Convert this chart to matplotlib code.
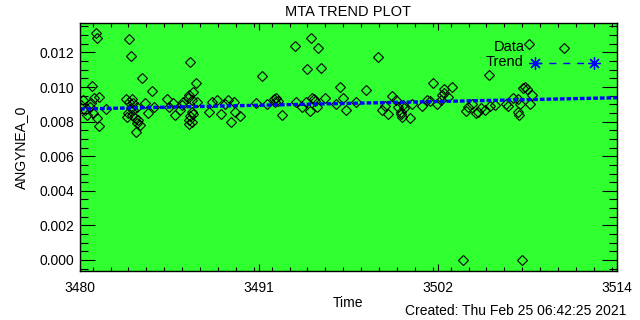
import matplotlib

matplotlib.use('Agg')
import matplotlib.pyplot as plt
from matplotlib.ticker import MultipleLocator, FixedLocator

plt.rcParams['font.family'] = ['Liberation Sans', 'DejaVu Sans']
plt.rcParams['font.size'] = 10

# data (time, value)
time = [
    3480.59, 3480.66, 3480.36, 3480.80, 3480.50, 3479.81, 3479.68, 3480.23, 3480.44, 3480.66,
    3480.82, 3481.24, 3479.92, 3480.06, 3480.30,
    3482.72, 3482.82, 3483.54, 3484.13, 3482.51, 3482.72, 3482.87, 3482.97, 3482.80, 3482.65,
    3482.55, 3482.87, 3483.08, 3483.18, 3483.14, 3483.29, 3483.39, 3482.97, 3483.18, 3483.71,
    3483.92, 3484.28,
    3485.12, 3485.24, 3485.50, 3485.60, 3485.92, 3486.03, 3486.13,
    3486.55, 3486.91, 3486.76, 3486.49, 3486.41, 3486.66, 3486.98, 3486.66, 3486.76, 3486.55,
    3486.45, 3486.66, 3486.49,
    3487.75, 3487.96, 3488.28, 3488.51, 3488.77, 3488.97, 3489.14, 3489.35, 3489.40, 3489.67,
    3490.71, 3491.12, 3491.40, 3491.82, 3491.97, 3492.10, 3491.93, 3492.35,
    3493.19, 3494.16, 3494.64, 3493.95, 3494.79, 3493.21, 3493.59, 3493.89, 3494.09, 3494.26,
    3494.37, 3494.44, 3494.58, 3495.04,
    3495.74, 3495.99, 3496.21, 3496.37, 3497.00, 3497.68, 3498.44, 3498.69, 3498.86, 3499.07,
    3499.28, 3499.53, 3499.70, 3499.85, 3499.97, 3500.08, 3499.87, 3499.93, 3500.44, 3500.57,
    3501.20, 3501.49, 3501.70, 3501.91, 3502.12, 3502.40, 3502.46, 3502.55, 3502.61, 3502.86,
    3503.10, 3503.75, 3503.94, 3504.08, 3504.36, 3504.57, 3504.71, 3504.93, 3505.20, 3505.41,
    3505.50, 3505.77, 3506.51, 3506.63,
    3506.95, 3507.27, 3507.37, 3507.27, 3507.33, 3507.48, 3507.54, 3507.68, 3507.79, 3507.94,
    3508.00, 3508.11, 3510.15,
]
value = [
    0.01310, 0.01281, 0.01007, 0.00943, 0.00934, 0.00924, 0.00895, 0.00886, 0.00847, 0.00819,
    0.00776, 0.00872, 0.00867, 0.00838, 0.00907,
    0.01275, 0.01179, 0.01050, 0.00976, 0.00930, 0.00915, 0.00932, 0.00905, 0.00876, 0.00847,
    0.00828, 0.00838, 0.00819, 0.00790, 0.00741, 0.00809, 0.00780, 0.00867, 0.00886, 0.00905,
    0.00847, 0.00886,
    0.00928, 0.00886, 0.00905, 0.00838, 0.00867, 0.00895, 0.00915,
    0.01142, 0.01021, 0.00972, 0.00953, 0.00934, 0.00924, 0.00911, 0.00857, 0.00842, 0.00832,
    0.00809, 0.00799, 0.00786,
    0.00853, 0.00915, 0.00924, 0.00842, 0.00899, 0.00924, 0.00795, 0.00911, 0.00857, 0.00834,
    0.00905, 0.01065, 0.00899, 0.00930, 0.00934, 0.00919, 0.00911, 0.00838,
    0.01238, 0.01281, 0.01226, 0.01102, 0.01111, 0.00915, 0.00886, 0.00915, 0.00861, 0.00938,
    0.00930, 0.00919, 0.00886, 0.00934,
    0.00899, 0.00998, 0.00934, 0.00867, 0.00915, 0.00982, 0.01174, 0.00867, 0.00891, 0.00842,
    0.00949, 0.00924, 0.00886, 0.00842, 0.00895, 0.00876, 0.00857, 0.00828, 0.00822, 0.00899,
    0.00891, 0.00924, 0.00919, 0.01021, 0.00899, 0.00924, 0.00953, 0.00986, 0.00963, 0.00943,
    0.00998, 0.00000, 0.00861, 0.00886, 0.00899, 0.00847, 0.00853, 0.00880, 0.00867, 0.01069,
    0.00891, 0.00895, 0.00899, 0.00891,
    0.00938, 0.00930, 0.00899, 0.00853, 0.00838, 0.00000, 0.00995, 0.01001, 0.00988, 0.01248,
    0.00899, 0.00953, 0.01223,
]

trend_time = [3479.6, 3513.5]
trend_value = [0.00873, 0.00938]

xtick_pos = [3479.6, 3490.9, 3502.2, 3513.5]
xtick_labels = ['3480', '3491', '3502', '3514']

fig = plt.figure(figsize=(6.4, 3.2), dpi=100)
ax = fig.add_axes([0.125, 0.153, 0.839, 0.775])
ax.set_facecolor('#30ff30')

ax.plot(time, value, ls='none', marker='D', ms=5.6, mfc='none', mec='black', mew=0.8)
ax.plot(trend_time, trend_value, color='blue', lw=2.4, ls=(0, (1.4, 0.6)))

ax.set_xlim(3479.6, 3513.5)
ax.set_ylim(-0.00064, 0.01370)
ax.xaxis.set_major_locator(FixedLocator(xtick_pos))
ax.set_xticklabels(xtick_labels)
ax.xaxis.set_minor_locator(MultipleLocator(11.3 / 10))
ax.yaxis.set_major_locator(MultipleLocator(0.002))
ax.yaxis.set_minor_locator(MultipleLocator(0.0005))
ax.yaxis.set_major_formatter(matplotlib.ticker.FormatStrFormatter('%.3f'))

ax.tick_params(axis='x', which='both', direction='in', top=True, pad=7, labelsize=10)
ax.tick_params(axis='x', which='major', length=5, width=0.8)
ax.tick_params(axis='x', which='minor', length=3, width=0.8)
ax.tick_params(axis='y', which='both', direction='in', right=True, pad=4, labelsize=10)
ax.tick_params(axis='y', which='major', length=11, width=0.8)
ax.tick_params(axis='y', which='minor', length=6, width=0.8)
for s in ax.spines.values():
    s.set_linewidth(1.0)

ax.set_title('MTA TREND PLOT', fontsize=10.5, pad=5)
ax.set_xlabel('Time', labelpad=1)
ax.set_ylabel('ANGYNEA_0', labelpad=8)

# legend, drawn by hand like the original
ax.text(0.828, 0.903, 'Data', transform=ax.transAxes, ha='right', va='center', fontsize=10.5)
ax.text(0.826, 0.843, 'Trend', transform=ax.transAxes, ha='right', va='center', fontsize=10.5)
ax.plot([0.848, 0.958], [0.839, 0.839], transform=ax.transAxes, color='blue', lw=1.0,
        ls=(0, (5, 5)), marker=(8, 2, 0), ms=9, mew=0.9)

fig.text(0.978, 0.027, 'Created: Thu Feb 25 06:42:25 2021', ha='right', va='center', fontsize=10)

plt.savefig('out.png', dpi=100)
